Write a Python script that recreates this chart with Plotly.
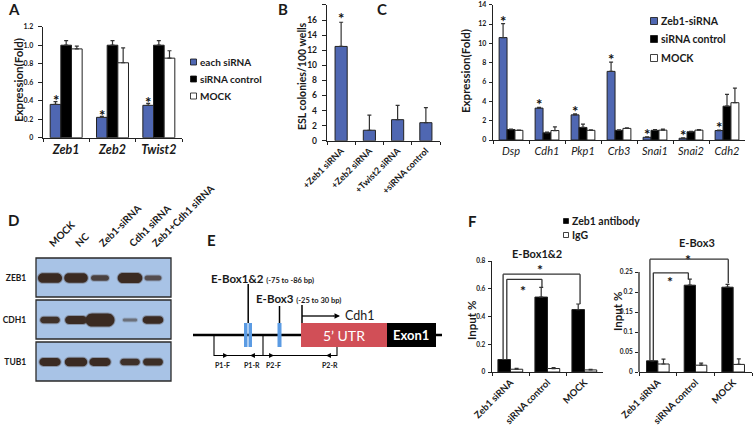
import plotly.graph_objects as go

W, H = 754, 433
FONT = "Lato"
INK = "#1a1a1a"
BLUE = "#4f67b2"
ERRC = "#333333"

# ---------------- data ----------------
# Panel A
a_genes = ["Zeb1", "Zeb2", "Twist2"]
a_each = [0.36, 0.22, 0.35]
a_each_err = [0.03, 0.01, 0.02]
a_ctrl = [1.0, 1.0, 1.0]
a_ctrl_err = [0.05, 0.05, 0.05]
a_mock = [0.96, 0.81, 0.86]
a_mock_err = [0.03, 0.16, 0.08]
a_ticks = [0, 0.2, 0.4, 0.6, 0.8, 1.0, 1.2]
a_ticktext = ["0", "0.2", "0.4", "0.6", "0.8", "1.0", "1.2"]

# Panel B
b_groups = ["+Zeb1 siRNA", "+Zeb2 siRNA", "+Twist2 siRNA", "+siRNA control"]
b_vals = [12.5, 1.4, 2.8, 2.4]
b_err = [3.2, 2.0, 1.9, 2.0]
b_sig = [True, False, False, False]

# Panel C
c_genes = ["Dsp", "Cdh1", "Pkp1", "Crb3", "Snai1", "Snai2", "Cdh2"]
c_zeb1 = [10.6, 3.3, 2.6, 7.1, 0.28, 0.18, 0.98]
c_zeb1_err = [1.45, 0.08, 0.1, 0.95, 0.05, 0.04, 0.04]
c_ctrl = [1.08, 0.74, 1.3, 1.0, 1.0, 0.85, 3.5]
c_ctrl_err = [0.05, 0.08, 0.35, 0.04, 0.08, 0.04, 1.22]
c_mock = [1.0, 0.98, 1.0, 1.2, 1.02, 1.02, 3.86]
c_mock_err = [0.03, 0.38, 0.05, 0.06, 0.1, 0.05, 1.5]
c_sig = [True] * 7

# Panel D (western blot; relative band strength)
d_lanes = ["MOCK", "NC", "Zeb1-siRNA", "Cdh1 siRNA", "Zeb1+Cdh1 siRNA"]
d_rows = ["ZEB1", "CDH1", "TUB1"]
d_zeb1 = [1.0, 0.95, 0.45, 1.05, 0.35]
d_cdh1 = [0.6, 0.8, 1.45, 0.12, 0.68]
d_tub1 = [0.75, 0.85, 0.75, 0.6, 0.62]

# Panel F
f_groups = ["Zeb1 siRNA", "siRNA control", "MOCK"]
f1_ab = [0.09, 0.54, 0.45]
f1_ab_err = [0.0, 0.07, 0.04]
f1_igg = [0.02, 0.025, 0.015]
f1_igg_err = [0.006, 0.006, 0.004]
f2_ab = [0.028, 0.217, 0.212]
f2_ab_err = [0.0, 0.015, 0.007]
f2_igg = [0.02, 0.017, 0.019]
f2_igg_err = [0.012, 0.005, 0.014]
f1_ticks = [0, 0.2, 0.4, 0.6, 0.8]
f1_ticktext = ["0", "0.2", "0.4", "0.6", "0.8"]
f2_ticks = [0, 0.05, 0.1, 0.15, 0.2, 0.25]
f2_ticktext = ["0", "0.05", "0.1", "0.15", "0.2", "0.25"]


# ---------------- helpers ----------------
def dx(x0, x1):
    return [x0 / W, x1 / W]


def dy(top, bot):
    return [1 - bot / H, 1 - top / H]


def px(x, y):
    return x / W, 1 - y / H


annotations = []
shapes = []


def txt(x, y, s, size, weight="bold", color=INK, xanchor="center", yanchor="middle", **kw):
    xp, yp = px(x, y)
    d = dict(x=xp, y=yp, xref="paper", yref="paper", text=s, showarrow=False,
             xanchor=xanchor, yanchor=yanchor, borderpad=0,
             font=dict(family=FONT, size=size, color=color, weight=weight))
    d.update(kw)
    annotations.append(d)


def star(xa, ya, x, y, shift, size=15):
    annotations.append(dict(xref=xa, yref=ya, x=x, y=y, text="*", showarrow=False,
                            xanchor="center", yanchor="middle", yshift=shift - 3,
                            font=dict(family=FONT, size=size, color="#111111", weight="bold")))


def seg(xa, ya, x0, y0, x1, y1):
    shapes.append(dict(type="line", xref=xa, yref=ya, x0=x0, y0=y0, x1=x1, y1=y1,
                       line=dict(color="#333333", width=1.3)))


def bracket(xa, ya, xl, yl, xr, yr, level):
    seg(xa, ya, xl, yl, xl, level)
    seg(xa, ya, xl, level, xr, level)
    seg(xa, ya, xr, level, xr, yr)


def errs(arr):
    return dict(type="data", array=arr, arrayminus=[0] * len(arr), symmetric=False,
                color=ERRC, thickness=1.2, width=2)


def bars(x, y, err, color, off, width, xa, ya, name):
    return go.Bar(x=x, y=y, error_y=errs(err), marker=dict(color=color, line=dict(color="#222", width=1)),
                  offset=off, width=width, xaxis=xa, yaxis=ya, name=name, showlegend=False)


def yax(domain, rng, tv, tt, size, standoff, ticklen, anchor, showline=True):
    return dict(domain=domain, range=rng, tickvals=tv, ticktext=tt, showline=showline, linecolor="#222",
                linewidth=1.3, ticks="outside", ticklen=ticklen, tickwidth=1, tickcolor="#222",
                showgrid=False, zeroline=False, ticklabelstandoff=standoff, fixedrange=True, anchor=anchor,
                automargin=False,
                tickfont=dict(family=FONT, size=size, color=INK, weight="bold"))


def xax(domain, n, angle, fsize, anchor, style="normal", weight="bold"):
    return dict(domain=domain, type="category", range=[-0.5, n - 0.5], showline=True, linecolor="#222",
                linewidth=1.3, ticks="outside", ticklen=3, tickwidth=1, tickcolor="#222", tickson="boundaries",
                showgrid=False, zeroline=False, tickangle=angle, anchor=anchor, fixedrange=True,
                automargin=False,
                tickfont=dict(family=FONT, size=fsize, color=INK, style=style, weight=weight))


fig = go.Figure()

# ---------------- Panel A ----------------
fig.add_trace(bars(a_genes, a_each, a_each_err, BLUE, -0.345, 0.23, "x", "y", "each siRNA"))
fig.add_trace(bars(a_genes, a_ctrl, a_ctrl_err, "#000000", -0.115, 0.23, "x", "y", "siRNA control"))
fig.add_trace(bars(a_genes, a_mock, a_mock_err, "#ffffff", 0.115, 0.23, "x", "y", "MOCK"))
for i in range(len(a_genes)):
    star("x", "y", i - 0.23, a_each[i] + a_each_err[i], 4.5)

# ---------------- Panel B ----------------
fig.add_trace(go.Bar(x=b_groups, y=b_vals, error_y=errs(b_err), width=0.43,
                     marker=dict(color=BLUE, line=dict(color="#222", width=1)),
                     xaxis="x2", yaxis="y2", showlegend=False, name="ESL colonies"))
for i, s in enumerate(b_sig):
    if s:
        star("x2", "y2", i, b_vals[i] + b_err[i], 7)

# ---------------- Panel C ----------------
fig.add_trace(bars(c_genes, c_zeb1, c_zeb1_err, BLUE, -0.33, 0.22, "x3", "y3", "Zeb1-siRNA"))
fig.add_trace(bars(c_genes, c_ctrl, c_ctrl_err, "#000000", -0.11, 0.22, "x3", "y3", "siRNA control"))
fig.add_trace(bars(c_genes, c_mock, c_mock_err, "#ffffff", 0.11, 0.22, "x3", "y3", "MOCK"))
for i, s in enumerate(c_sig):
    if s:
        star("x3", "y3", i - 0.22, c_zeb1[i] + c_zeb1_err[i], 6)

# ---------------- Panel F ----------------
fig.add_trace(bars(f_groups, f1_ab, f1_ab_err, "#000000", -0.34, 0.34, "x4", "y4", "Zeb1 antibody"))
fig.add_trace(bars(f_groups, f1_igg, f1_igg_err, "#ffffff", 0.0, 0.33, "x4", "y4", "IgG"))
fig.add_trace(bars(f_groups, f2_ab, f2_ab_err, "#000000", -0.3, 0.3, "x5", "y5", "Zeb1 antibody"))
fig.add_trace(bars(f_groups, f2_igg, f2_igg_err, "#ffffff", 0.0, 0.3, "x5", "y5", "IgG"))

c1 = [i - 0.17 for i in range(3)]
bracket("x4", "y4", c1[0] - 0.03, f1_ab[0], c1[2] + 0.05, f1_ab[2] + f1_ab_err[2], 0.705)
bracket("x4", "y4", c1[0] + 0.07, f1_ab[0], c1[1] + 0.02, f1_ab[1] + f1_ab_err[1], 0.668)
star("x4", "y4", 0.8, 0.705, 8, 14)
star("x4", "y4", 0.35, 0.668, -8, 14)

c2 = [i - 0.15 for i in range(3)]
bracket("x5", "y5", c2[0] - 0.06, f2_ab[0], c2[2] + 0.02, f2_ab[2] + f2_ab_err[2] + 0.003, 0.282)
bracket("x5", "y5", c2[0] + 0.03, f2_ab[0], c2[1] - 0.04, f2_ab[1] + f2_ab_err[1], 0.248)
star("x5", "y5", 0.81, 0.282, 3, 14)
star("x5", "y5", 0.32, 0.248, -6, 14)
# visible y-axis line of the E-Box3 chart only up to its last tick
shapes.append(dict(type="line", xref="x5 domain", yref="y5", x0=0, x1=0, y0=0, y1=f2_ticks[-1],
                   line=dict(color="#222", width=1.3)))

# ---------------- Panel D (blot) ----------------
lane_x = [14, 40, 64, 94, 117]
row_y = [20, 62, 104]
row_box = [(0, 39), (42, 81), (84, 123)]
for (y0, y1) in row_box:
    shapes.append(dict(type="rect", xref="x6", yref="y6", x0=0, x1=135, y0=y0, y1=y1,
                       fillcolor="#a8c3e6", line=dict(color="#2a2a2a", width=1.3), layer="below"))


def capsule(cx, cy, w, h):
    r = h / 2.0
    k = 0.5523 * r
    xl = cx - w / 2 + r
    xr = cx + w / 2 - r
    return (f"M{xl},{cy - r} L{xr},{cy - r} C{xr + k},{cy - r} {xr + r},{cy - k} {xr + r},{cy} "
            f"C{xr + r},{cy + k} {xr + k},{cy + r} {xr},{cy + r} L{xl},{cy + r} "
            f"C{xl - k},{cy + r} {xl - r},{cy + k} {xl - r},{cy} C{xl - r},{cy - k} {xl - k},{cy - r} {xl},{cy - r} Z")


for ri, strengths in enumerate([d_zeb1, d_cdh1, d_tub1]):
    for li, s in enumerate(strengths):
        w = 13 + 11 * s
        h = 2.2 + 7.5 * s
        op = min(1.0, 0.35 + s)
        shapes.append(dict(type="path", xref="x6", yref="y6", path=capsule(lane_x[li], row_y[ri], w + 2, h + 2),
                           fillcolor="#4a3a30", opacity=0.35 * op, line=dict(width=0)))
        shapes.append(dict(type="path", xref="x6", yref="y6", path=capsule(lane_x[li], row_y[ri], w, h),
                           fillcolor="#3a2a22", opacity=op, line=dict(width=0)))

# ---------------- Panel E (promoter diagram) ----------------
def pline(x0, y0, x1, y1, w=1.5, color="#000"):
    a, b = px(x0, y0)
    c, d = px(x1, y1)
    shapes.append(dict(type="line", xref="paper", yref="paper", x0=a, y0=b, x1=c, y1=d,
                       line=dict(color=color, width=w)))


def prect(x0, y0, x1, y1, fill):
    a, b = px(x0, y0)
    c, d = px(x1, y1)
    shapes.append(dict(type="rect", xref="paper", yref="paper", x0=a, y0=b, x1=c, y1=d,
                       fillcolor=fill, line=dict(width=0)))


def parrow(xh, yh, dxp, size=0.9):
    a, b = px(xh, yh)
    annotations.append(dict(x=a, y=b, xref="paper", yref="paper", ax=dxp, ay=0, text="",
                            showarrow=True, arrowhead=2, arrowsize=size, arrowwidth=1.1,
                            arrowcolor="#000", standoff=0))


pline(193, 335, 442, 335, 2.7)
prect(301, 323, 387, 347, "#d14f57")
prect(387, 323, 436, 347, "#000000")
prect(244, 323, 247.5, 347, "#5b9be3")
prect(248.5, 323, 252, 347, "#5b9be3")
prect(277.5, 323, 281.5, 347, "#5b9be3")
pline(248.2, 284, 248.2, 323, 1.5)
pline(279.5, 306, 279.5, 323, 1.5)
pline(302, 305, 302, 323, 1.5)
pline(302, 316, 334, 316, 1.3)
parrow(340, 316, -8, 1.0)
# primer brackets
pline(214, 335, 214, 356, 1.1)
pline(263, 335, 263, 356, 1.1)
pline(337, 347, 337, 356, 1.1)
pline(214, 355.5, 337, 355.5, 1.1)
parrow(228, 355.5, -8)
parrow(250, 355.5, 8)
parrow(274, 355.5, -8)
parrow(326, 355.5, 8)

txt(210, 278, "E-Box1&2 <span style='font-size:7.5px'>(-75 to -86 bp)</span>", 11.5, xanchor="left")
txt(255, 298, "E-Box3 <span style='font-size:7.5px'>(-25 to 30 bp)</span>", 11.5, xanchor="left")
txt(344, 315, "Cdh1", 12.5, weight="normal", xanchor="left")
txt(344, 335, "5’ UTR", 14, weight="normal", color="#ffffff")
txt(411, 335, "Exon1", 13, weight="bold", color="#ffffff")
for lab, xx in [("P1-F", 222), ("P1-R", 252), ("P2-F", 273), ("P2-R", 330)]:
    txt(xx, 365, lab, 7)

# ---------------- legends (swatches + labels) ----------------
def swatch(x, y, s, fill):
    a, b = px(x - s / 2, y + s / 2)
    c, d = px(x + s / 2, y - s / 2)
    shapes.append(dict(type="rect", xref="paper", yref="paper", x0=a, y0=b, x1=c, y1=d,
                       fillcolor=fill, line=dict(color="#111", width=0.8)))


for (lab, col), yy in zip([("each siRNA", BLUE), ("siRNA control", "#000"), ("MOCK", "#fff")], [62, 79, 96]):
    swatch(193.5, yy, 6, col)
    txt(199, yy, lab, 10, xanchor="left")
for (lab, col), yy in zip([("Zeb1-siRNA", BLUE), ("siRNA control", "#000"), ("MOCK", "#fff")], [21, 39, 58]):
    swatch(654, yy, 7, col)
    txt(659.5, yy, lab, 10.5, xanchor="left")
for (lab, col), yy in zip([("Zeb1 antibody", "#000"), ("IgG", "#fff")], [221, 235]):
    swatch(566, yy, 5, col)
    txt(571, yy, lab, 10.5, xanchor="left")

# ---------------- titles & panel letters ----------------
txt(18, 80, "Expression(Fold)", 11.5, textangle=-90)
txt(302, 76, "ESL colonies/100 wells", 10.5, textangle=-90)
txt(465, 71, "Expression(Fold)", 11.5, textangle=-90)
txt(471, 321, "Input %", 11.5, textangle=-90)
txt(617, 312, "Input %", 11.5, textangle=-90)
txt(537, 253, "E-Box1&2", 11)
txt(697, 242.5, "E-Box3", 11)
for lab, xx, yy in [("A", 14, 9), ("B", 283, 9), ("C", 382, 9), ("D", 13, 220), ("E", 211, 240), ("F", 472, 221)]:
    txt(xx, yy, lab, 15)

# ---------------- layout ----------------
fig.update_layout(
    width=W, height=H, margin=dict(l=0, r=0, t=0, b=0, pad=0, autoexpand=False), autosize=False,
    paper_bgcolor="white", plot_bgcolor="rgba(0,0,0,0)", barmode="group", showlegend=False,
    font=dict(family=FONT, color=INK),
    xaxis=xax(dx(43, 182), 3, 0, 12.5, "y", style="italic"),
    yaxis=yax(dy(26.7, 137.7), [0, 1.2], a_ticks, a_ticktext, 7, 3, 4, "x"),
    xaxis2=xax(dx(327, 440), 4, -45, 9, "y2"),
    yaxis2=yax(dy(4.9, 140.8), [0, 18], list(range(0, 19, 2)), [str(v) for v in range(0, 19, 2)], 8.5, 3, 4, "x2"),
    xaxis3=xax(dx(493, 745), 7, 0, 11, "y3", style="italic", weight="normal"),
    yaxis3=yax(dy(4.7, 140), [0, 14], list(range(0, 15, 2)), [str(v) for v in range(0, 15, 2)], 7, 1, 3, "x3"),
    xaxis4=xax(dx(492, 603), 3, -45, 9.5, "y4"),
    yaxis4=yax(dy(261, 372), [0, 0.8], f1_ticks, f1_ticktext, 6.5, 1, 3, "x4"),
    xaxis5=xax(dx(639, 752), 3, -45, 9.5, "y5"),
    yaxis5=yax(dy(252, 372), [0, 0.30], f2_ticks, f2_ticktext, 6.5, 1, 3, "x5", showline=False),
    xaxis6=dict(domain=dx(35, 172), range=[-1, 136], anchor="y6", side="top", tickvals=lane_x,
                ticktext=d_lanes, tickangle=-45, showgrid=False, zeroline=False, showline=False,
                ticks="outside", ticklen=3, tickcolor="rgba(0,0,0,0)", fixedrange=True, automargin=False,
                tickfont=dict(family=FONT, size=10, color=INK, weight="bold")),
    yaxis6=dict(domain=dy(257, 382), range=[124, -1], anchor="x6", tickvals=row_y, ticktext=d_rows,
                showgrid=False, zeroline=False, showline=False, ticks="outside", ticklen=6,
                tickcolor="rgba(0,0,0,0)", fixedrange=True, automargin=False,
                tickfont=dict(family=FONT, size=8.5, color=INK, weight="bold")),
    annotations=annotations,
    shapes=shapes,
)

fig.write_html("out.html", config={"displayModeBar": False, "staticPlot": True},
               post_script="document.body.style.margin='0px';")
